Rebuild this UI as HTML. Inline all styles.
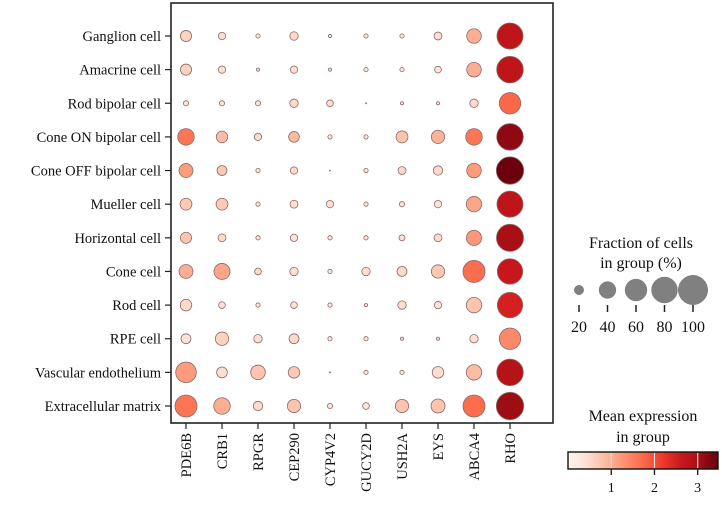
<!DOCTYPE html>
<html><head><meta charset="utf-8"><style>
body{margin:0;background:#fff;}
svg{display:block;font-family:"Liberation Serif",serif;}
</style></head><body>
<svg id="chart" width="722" height="523" viewBox="0 0 722 523"></svg>
<script>
const genes=["PDE6B","CRB1","RPGR","CEP290","CYP4V2","GUCY2D","USH2A","EYS","ABCA4","RHO"];
const cellTypes=["Ganglion cell","Amacrine cell","Rod bipolar cell","Cone ON bipolar cell","Cone OFF bipolar cell","Mueller cell","Horizontal cell","Cone cell","Rod cell","RPE cell","Vascular endothelium","Extracellular matrix"];
const fractions=[
[25,17,13,19,12,13,13,18,35,88],
[25,17,12,17,12,13,13,16,35,91],
[14,14,14,19,16,11,12,12,19,63],
[42,26,17,24,13,13,27,31,42,91],
[33,22,13,17,11,13,18,21,35,96],
[27,27,13,18,17,13,14,17,38,88],
[25,18,13,17,13,13,15,18,37,94],
[33,40,16,19,13,19,22,31,66,84],
[26,16,13,16,13,12,19,17,38,84],
[22,31,19,22,13,13,12,12,19,63],
[59,24,35,26,11,13,13,26,38,91],
[66,42,21,31,14,16,31,33,66,96]];
const expression=[
[0.6,0.45,0.3,0.5,0.3,0.3,0.3,0.45,1.0,2.75],
[0.6,0.45,0.3,0.45,0.3,0.3,0.3,0.35,1.0,2.75],
[0.35,0.35,0.35,0.5,0.45,0.3,0.3,0.3,0.5,1.75],
[1.6,0.85,0.5,0.85,0.3,0.3,0.75,0.95,1.6,3.2],
[1.2,0.7,0.3,0.5,0.3,0.3,0.5,0.5,1.2,3.45],
[0.7,0.7,0.3,0.45,0.45,0.3,0.35,0.35,1.1,2.75],
[0.75,0.5,0.3,0.35,0.3,0.3,0.35,0.5,1.25,3.0],
[1.0,1.1,0.5,0.45,0.3,0.45,0.5,0.7,1.7,2.65],
[0.5,0.35,0.3,0.35,0.3,0.3,0.45,0.35,0.75,2.5],
[0.35,0.6,0.45,0.5,0.3,0.3,0.3,0.3,0.45,1.4],
[1.2,0.45,0.75,0.7,0.3,0.3,0.3,0.45,0.85,2.85],
[1.6,1.0,0.5,0.75,0.3,0.3,0.75,0.75,1.7,3.1]];
const sizeLegendValues=[20,40,60,80,100];
const colorTicks=[1,2,3];
const VMAX=3.47;

const NS="http://www.w3.org/2000/svg";
const svg=document.getElementById("chart");
function mk(tag,attrs,parent){const e=document.createElementNS(NS,tag);for(const k in attrs)e.setAttribute(k,attrs[k]);(parent||svg).appendChild(e);return e;}
const stops=["#fff5f0","#fee0d2","#fcbba1","#fc9272","#fb6a4a","#ef3b2c","#cb181d","#a50f15","#67000d"];
function hex(h){return [1,3,5].map(i=>parseInt(h.substr(i,2),16));}
function reds(v){let t=Math.max(0,Math.min(1,v/VMAX))*(stops.length-1);let i=Math.min(Math.floor(t),stops.length-2);let f=t-i;const a=hex(stops[i]),b=hex(stops[i+1]);return "rgb("+a.map((c,k)=>Math.round(c+(b[k]-c)*f)).join(",")+")";}
function rad(f){return Math.sqrt(Math.max(0.3,2.2*f-24));}
const L=171,R=553,T=3,B=423;
function xPos(j){return 186+j*(510-186)/(genes.length-1);}
function yPos(i){return 36+i*(406-36)/(cellTypes.length-1);}

const frame=mk("rect",{x:L,y:T,width:R-L,height:B-T,fill:"none",stroke:"#222","stroke-width":1.6});



cellTypes.forEach((c,i)=>{
  const y=yPos(i);
  const tk=mk("line",{x1:L-6,x2:L,y1:y,y2:y,stroke:"#222","stroke-width":1.2});
  
  
  const t=mk("text",{x:L-10,y:y+5,"text-anchor":"end","font-size":14.5,fill:"#111"});
  t.textContent=c;
  
  
});
genes.forEach((g,j)=>{
  const x=xPos(j);
  const tk=mk("line",{x1:x,x2:x,y1:B,y2:B+6,stroke:"#222","stroke-width":1.2});
  
  
  const t=mk("text",{x:0,y:0,"text-anchor":"end","font-size":14.5,fill:"#111",transform:"translate("+(x+5)+","+(B+10)+") rotate(-90)"});
  t.textContent=g;
  
  
});
cellTypes.forEach((c,i)=>{genes.forEach((g,j)=>{
  const d=mk("circle",{cx:xPos(j),cy:yPos(i),r:rad(fractions[i][j]),fill:reds(expression[i][j]),stroke:"#8a6a66","stroke-width":0.8});
  
  
});});

// size legend
const st1=mk("text",{x:641,y:248,"text-anchor":"middle","font-size":16,fill:"#111"});st1.textContent="Fraction of cells";


const st2=mk("text",{x:641,y:268,"text-anchor":"middle","font-size":16,fill:"#111"});st2.textContent="in group (%)";


sizeLegendValues.forEach((v,k)=>{
  const x=579+k*28.5;
  const c=mk("circle",{cx:x,cy:290,r:rad(v)*1.05,fill:"#808080",stroke:"#777","stroke-width":0.5});
  
  
  const l=mk("line",{x1:x,x2:x,y1:305,y2:312,stroke:"#222","stroke-width":1.5});
  
  
  const t=mk("text",{x:x,y:332,"text-anchor":"middle","font-size":16,fill:"#111"});t.textContent=v;
  
  
});

// color legend
const ct1=mk("text",{x:643,y:421,"text-anchor":"middle","font-size":16,fill:"#111"});ct1.textContent="Mean expression";


const ct2=mk("text",{x:643,y:442,"text-anchor":"middle","font-size":16,fill:"#111"});ct2.textContent="in group";


const defs=mk("defs",{});
const grad=mk("linearGradient",{id:"rg",x1:0,x2:1,y1:0,y2:0},defs);
stops.forEach((s,k)=>mk("stop",{offset:(k/(stops.length-1)),"stop-color":s},grad));
const CB0=568,CB1=718;
function cbX(v){return CB0+v/VMAX*(CB1-CB0);}
const bar=mk("rect",{x:CB0,y:452,width:CB1-CB0,height:17,fill:"url(#rg)",stroke:"#111","stroke-width":1.4});


colorTicks.forEach(v=>{
  const x=cbX(v);
  const w=mk("line",{x1:x,x2:x,y1:453,y2:468,stroke:"#ddd","stroke-width":1.2});
  
  
  const l=mk("line",{x1:x,x2:x,y1:469,y2:475,stroke:"#222","stroke-width":1.4});
  
  
  const t=mk("text",{x:x,y:492,"text-anchor":"middle","font-size":14,fill:"#111"});t.textContent=v;
  
  
});
</script>
</body></html>
